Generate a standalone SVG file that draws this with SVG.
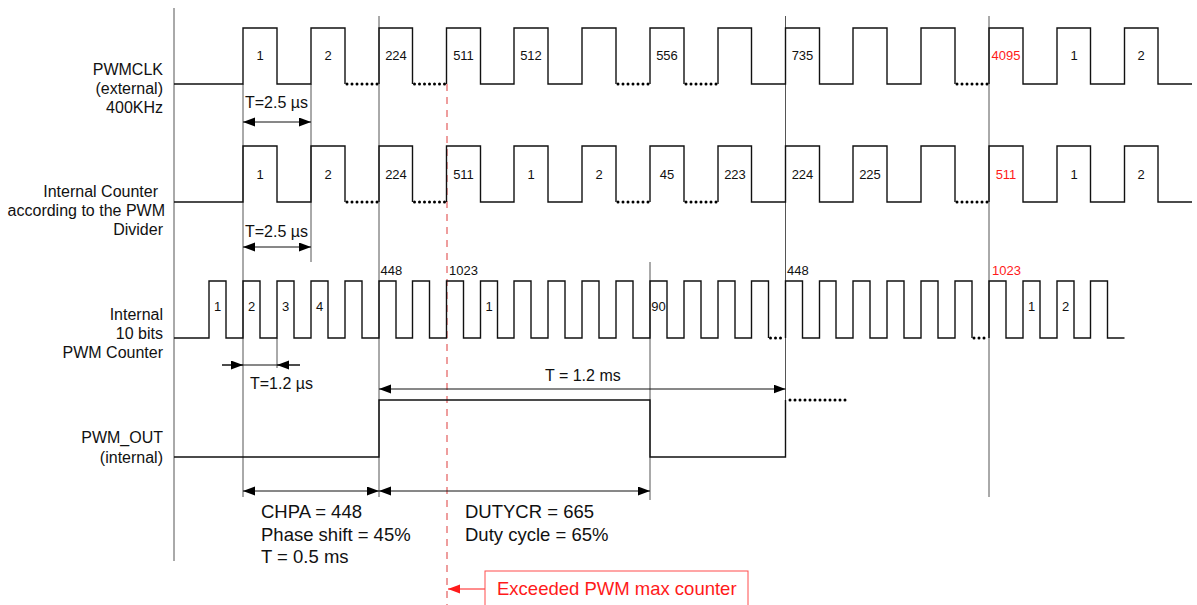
<svg xmlns="http://www.w3.org/2000/svg" width="1197" height="605" viewBox="0 0 1197 605">
<style>
text{font-family:"Liberation Sans",Arial,sans-serif;fill:#111}
.lbl{font-size:16px;text-anchor:end}
.n{font-size:13px;text-anchor:middle}
.s{font-size:13px}
.red{fill:#ff1a1a}
.t{font-size:16px}
.b{font-size:18.5px}
.wave{fill:none;stroke:#111;stroke-width:1.4}
.mark{fill:none;stroke:#555;stroke-width:1}
.dots{fill:none;stroke:#000;stroke-width:3;stroke-linecap:round;stroke-dasharray:0 5}
.dim{fill:none;stroke:#111;stroke-width:1;marker-start:url(#ah);marker-end:url(#ah)}
</style>
<defs>
<marker id="ah" markerUnits="userSpaceOnUse" markerWidth="13" markerHeight="10" refX="12" refY="4.5" orient="auto-start-reverse"><path d="M0,0 L12,4.5 L0,9 z" fill="#000"/></marker>
<marker id="ahr" markerUnits="userSpaceOnUse" markerWidth="13" markerHeight="10" refX="12" refY="4.5" orient="auto"><path d="M0,0 L12,4.5 L0,9 z" fill="#ff1a1a"/></marker>
</defs>
<rect width="1197" height="605" fill="#fff"/>

<g id="labels">
<text class="lbl" x="163" y="75">PWMCLK</text>
<text class="lbl" x="163" y="94">(external)</text>
<text class="lbl" x="163" y="113">400KHz</text>
<text class="lbl" x="158" y="197">Internal Counter</text>
<text class="lbl" x="165" y="216">according to the PWM</text>
<text class="lbl" x="163" y="235">Divider</text>
<text class="lbl" x="163" y="320">Internal</text>
<text class="lbl" x="163" y="339">10 bits</text>
<text class="lbl" x="163" y="358">PWM Counter</text>
<text class="lbl" x="163" y="443">PWM_OUT</text>
<text class="lbl" x="163" y="463">(internal)</text>
</g>

<g id="axis">
<line class="mark" x1="174" y1="8" x2="174" y2="561"/>
</g>

<g id="connectors">
<line class="mark" x1="243" y1="84" x2="243" y2="497"/>
<line class="mark" x1="311" y1="84" x2="311" y2="262"/>
<line class="mark" x1="277" y1="338" x2="277" y2="368"/>
<line class="mark" x1="379" y1="16" x2="379" y2="497"/>
<line class="mark" x1="650" y1="262" x2="650" y2="500"/>
<line class="mark" x1="785.5" y1="16" x2="785.5" y2="400"/>
<line class="mark" x1="989" y1="16" x2="989" y2="497"/>
<line x1="447" y1="84" x2="447" y2="605" stroke="#e35d5d" stroke-width="1.2" stroke-dasharray="7 6"/>
<line class="dim" x1="243" y1="122" x2="311" y2="122"/>
<line class="dim" x1="243" y1="247" x2="311" y2="247"/>
<line x1="222" y1="365" x2="300" y2="365" stroke="#111" stroke-width="1"/>
<line x1="222" y1="365" x2="243" y2="365" stroke="#111" stroke-width="1" marker-end="url(#ah)"/>
<line x1="300" y1="365" x2="277" y2="365" stroke="#111" stroke-width="1" marker-end="url(#ah)"/>
<line class="dim" x1="379" y1="389" x2="785.5" y2="389"/>
<line class="dim" x1="243" y1="491" x2="379" y2="491"/>
<line class="dim" x1="379" y1="491" x2="650" y2="491"/>
<line x1="485" y1="589" x2="448" y2="589" stroke="#ff1a1a" stroke-width="1" marker-end="url(#ahr)"/>
</g>

<g id="pwmclk">
<path class="wave" d="M174,84 H243 V28 H277 V84 H311 V28 H345 V84 M379,84 V28 H412.5 V84 M446.5,84 V28 H480.5 V84 H514 V28 H548 V84 H582 V28 H616 V84 M650,84 V28 H684 V84 M718,84 V28 H751.5 V84 H785.5 V28 H819.5 V84 H853 V28 H887 V84 H921 V28 H955 V84 M989,84 V28 H1023 V84 H1057 V28 H1090.5 V84 H1124.5 V28 H1158 V84 H1192"/>
<path class="dots" d="M347,84 H379 M414.5,84 H446.5 M618,84 H650 M686,84 H718 M957,84 H989"/>
<text class="n" x="260" y="60">1</text>
<text class="n" x="328" y="60">2</text>
<text class="n" x="396" y="60">224</text>
<text class="n" x="463.5" y="60">511</text>
<text class="n" x="531" y="60">512</text>
<text class="n" x="667" y="60">556</text>
<text class="n" x="802.5" y="60">735</text>
<text class="n red" x="1006" y="60">4095</text>
<text class="n" x="1074" y="60">1</text>
<text class="n" x="1141" y="60">2</text>
<text class="t" x="245" y="108">T=2.5 µs</text>
</g>

<g id="counter">
<path class="wave" d="M174,202 H243 V146 H277 V202 H311 V146 H345 V202 M379,202 V146 H412.5 V202 M446.5,202 V146 H480.5 V202 H514 V146 H548 V202 H582 V146 H616 V202 M650,202 V146 H684 V202 M718,202 V146 H751.5 V202 H785.5 V146 H819.5 V202 H853 V146 H887 V202 H921 V146 H955 V202 M989,202 V146 H1023 V202 H1057 V146 H1090.5 V202 H1124.5 V146 H1158 V202 H1192"/>
<path class="dots" d="M347,202 H379 M414.5,202 H446.5 M618,202 H650 M686,202 H718 M957,202 H989"/>
<text class="n" x="260" y="179">1</text>
<text class="n" x="328" y="179">2</text>
<text class="n" x="396" y="179">224</text>
<text class="n" x="463.5" y="179">511</text>
<text class="n" x="531" y="179">1</text>
<text class="n" x="599" y="179">2</text>
<text class="n" x="667" y="179">45</text>
<text class="n" x="735" y="179">223</text>
<text class="n" x="802.5" y="179">224</text>
<text class="n" x="870" y="179">225</text>
<text class="n red" x="1006" y="179">511</text>
<text class="n" x="1074" y="179">1</text>
<text class="n" x="1141" y="179">2</text>
<text class="t" x="245" y="237">T=2.5 µs</text>
</g>

<g id="pwmcounter">
<path class="wave" d="M174,338 H209 V281 H226 V338 H243 V281 H260 V338 H277 V281 H294 V338 H311 V281 H328 V338 H345 V281 H362 V338 H379 V281 H396 V338 H412.5 V281 H429.5 V338 H446.5 V281 H463.5 V338 H480.5 V281 H497.5 V338 H514 V281 H531 V338 H548 V281 H565 V338 H582 V281 H599 V338 H616 V281 H633 V338 H650 V281 H667 V338 H684 V281 H701 V338 H718 V281 H735 V338 H751.5 V281 H768.5 V338 M785.5,338 V281 H802.5 V338 H819.5 V281 H836 V338 H853 V281 H870 V338 H887 V281 H904 V338 H921 V281 H938 V338 H955 V281 H972 V338 M989,338 V281 H1006 V338 H1023 V281 H1040 V338 H1057 V281 H1074 V338 H1090.5 V281 H1107.5 V338 H1124.5"/>
<path class="dots" d="M770.5,338 H785.5 M974,338 H989"/>
<text class="n" x="217.5" y="310.5">1</text>
<text class="n" x="251.5" y="310.5">2</text>
<text class="n" x="285.5" y="310.5">3</text>
<text class="n" x="319.5" y="310.5">4</text>
<text class="n" x="489" y="310.5">1</text>
<text class="n" x="658.5" y="310.5">90</text>
<text class="n" x="1031.5" y="310.5">1</text>
<text class="n" x="1065.5" y="310.5">2</text>
<text class="s" x="380.5" y="274.5">448</text>
<text class="s" x="449" y="274.5">1023</text>
<text class="s" x="787" y="274.5">448</text>
<text class="s red" x="992" y="274.5">1023</text>
<text class="t" x="250" y="389">T=1.2 µs</text>
<text class="t" x="545" y="381">T = 1.2 ms</text>
</g>

<g id="pwmout">
<path class="wave" d="M174,457 H379 V400 H650 V457 H785.5 V400"/>
<path class="dots" d="M790,400 H850"/>
</g>

<g id="notes">
<text class="b" x="261" y="518">CHPA = 448</text>
<text class="b" x="261" y="541">Phase shift = 45%</text>
<text class="b" x="261" y="563">T = 0.5 ms</text>
<text class="b" x="465" y="518">DUTYCR = 665</text>
<text class="b" x="465" y="541">Duty cycle = 65%</text>
</g>

<g id="exceeded">
<rect x="485" y="571" width="263" height="45" fill="none" stroke="#ff4d4d" stroke-width="1"/>
<text class="b red" x="497" y="595">Exceeded PWM max counter</text>
</g>
</svg>
